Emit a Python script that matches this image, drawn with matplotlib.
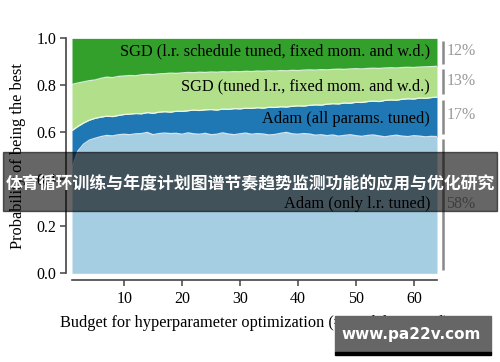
import matplotlib
matplotlib.use('Agg')
import matplotlib.pyplot as plt
import numpy as np

plt.rcParams['font.family'] = ['Liberation Serif', 'DejaVu Serif']

# budget (# models trained)
budget = list(range(1, 65))

# cumulative upper boundary of each band
adam_lr_top = [0.450, 0.520, 0.550, 0.567, 0.575, 0.582, 0.587, 0.585, 0.590, 0.592,
               0.590, 0.594, 0.595, 0.600, 0.590, 0.595, 0.597, 0.595, 0.596, 0.592,
               0.598, 0.594, 0.592, 0.596, 0.590, 0.592, 0.598, 0.593, 0.590, 0.594,
               0.597, 0.592, 0.595, 0.593, 0.589, 0.591, 0.596, 0.600, 0.594, 0.592,
               0.595, 0.593, 0.588, 0.590, 0.586, 0.589, 0.584, 0.587, 0.590, 0.586,
               0.583, 0.587, 0.589, 0.585, 0.581, 0.585, 0.588, 0.584, 0.582, 0.586,
               0.584, 0.581, 0.583, 0.582]
adam_all_top = [0.608, 0.625, 0.640, 0.652, 0.660, 0.665, 0.669, 0.667, 0.672, 0.676,
                0.678, 0.680, 0.679, 0.684, 0.681, 0.686, 0.688, 0.686, 0.690, 0.689,
                0.692, 0.695, 0.693, 0.696, 0.697, 0.695, 0.699, 0.698, 0.701, 0.700,
                0.703, 0.702, 0.705, 0.703, 0.707, 0.706, 0.709, 0.708, 0.711, 0.713,
                0.712, 0.715, 0.717, 0.716, 0.720, 0.722, 0.721, 0.725, 0.724, 0.728,
                0.727, 0.731, 0.733, 0.731, 0.736, 0.738, 0.737, 0.741, 0.743, 0.742,
                0.746, 0.745, 0.748, 0.750]
sgd_lr_top = [0.804, 0.810, 0.815, 0.820, 0.823, 0.830, 0.835, 0.833, 0.838, 0.840,
              0.842, 0.841, 0.845, 0.847, 0.846, 0.849, 0.850, 0.852, 0.851, 0.853,
              0.855, 0.854, 0.856, 0.855, 0.857, 0.856, 0.858, 0.857, 0.859, 0.858,
              0.860, 0.859, 0.861, 0.860, 0.862, 0.861, 0.863, 0.862, 0.864, 0.863,
              0.865, 0.866, 0.865, 0.867, 0.866, 0.868, 0.869, 0.868, 0.870, 0.871,
              0.870, 0.872, 0.873, 0.872, 0.874, 0.875, 0.874, 0.876, 0.877, 0.876,
              0.878, 0.879, 0.880, 0.881]
sgd_sched_top = [1.0] * 64

labels = ['Adam (only l.r. tuned)', 'Adam (all params. tuned)',
          'SGD (tuned l.r., fixed mom. and w.d.)',
          'SGD (l.r. schedule tuned, fixed mom. and w.d.)']
shares = ['58%', '17%', '13%', '12%']
label_y = [0.294, 0.658, 0.796, 0.946]
share_y = [0.294, 0.672, 0.820, 0.946]
colors = ['#a6cee3', '#1f78b4', '#b2df8a', '#33a02c']

fig = plt.figure(figsize=(5, 3.62), dpi=100)
ax = fig.add_axes([0.144, 0.245, 0.730, 0.649])

tops = [adam_lr_top, adam_all_top, sgd_lr_top, sgd_sched_top]
lower = [0.0] * 64
for top, c in zip(tops, colors):
    ax.fill_between(budget, lower, top, color=c, lw=0)
    lower = top
for top in tops[:3]:
    ax.plot(budget, top, color='white', lw=0.9, alpha=0.8)

ax.set_xlim(1, 64)
ax.set_ylim(0, 1)

# band labels and share bars on the right
lower = 0.0
for top, lab, sh, ly, sy in zip(tops, labels, shares, label_y, share_y):
    t = top[-1]
    ax.text(62.8, ly, lab, ha='right', va='center', fontsize=11.8)
    ax.plot([65.1, 65.1], [lower + 0.012, t - 0.012], color='#888888', lw=1.8,
            clip_on=False, solid_capstyle='butt')
    ax.text(65.6, sy, sh, ha='left', va='center', fontsize=11.5, color='#999999')
    lower = t

ax.spines['top'].set_visible(False)
ax.spines['right'].set_visible(False)
ax.spines['left'].set_position(('outward', 4))
ax.spines['bottom'].set_position(('outward', 5))
ax.spines['left'].set_bounds(0, 1)
ax.spines['bottom'].set_bounds(1, 64)
for s in ['left', 'bottom']:
    ax.spines[s].set_color('#444444')
    ax.spines[s].set_linewidth(1.2)
ax.tick_params(colors='#444444', labelcolor='black', labelsize=11.5, length=4, width=1.1)
ax.set_xticks([10, 20, 30, 40, 50, 60])
ax.set_yticks([0.0, 0.2, 0.4, 0.6, 0.8, 1.0])
ax.set_yticklabels(['0.0', '0.2', '0.4', '0.6', '0.8', '1.0'])

ax.set_xlabel('Budget for hyperparameter optimization (# models trained)', fontsize=11.8, labelpad=6)
ax.set_ylabel('Probability of being the best', fontsize=11.8, labelpad=7)

# overlay banner
fig.patches.append(plt.Rectangle((0.006, 0.417), 0.988, 0.163, transform=fig.transFigure,
                                 color='black', alpha=0.6, zorder=10))
fig.text(0.5, 0.492, '体育循环训练与年度计划图谱节奏趋势监测功能的应用与优化研究',
         ha='center', va='center', color='white', fontsize=12.2, fontweight='bold',
         family=['Noto Sans CJK SC', 'DejaVu Sans'], zorder=11)

# watermark
fig.patches.append(plt.Rectangle((0.670, 0.028), 0.312, 0.099, transform=fig.transFigure,
                                 color='#666666', zorder=10))
fig.patches.append(plt.Rectangle((0.670, 0.020), 0.312, 0.009, transform=fig.transFigure,
                                 color='black', zorder=10))
fig.text(0.822, 0.077, 'www.pa22v.com', ha='center', va='center', color='white',
         fontsize=11, fontweight='bold', family=['DejaVu Sans'], zorder=11)

fig.savefig('out.png', dpi=100)
